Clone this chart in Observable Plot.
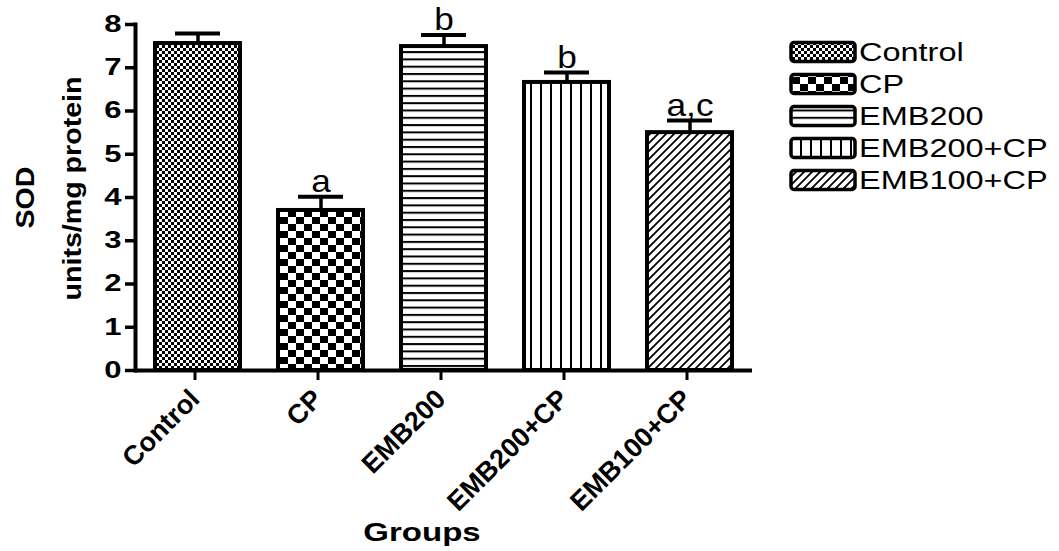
<!DOCTYPE html>
<html><head><meta charset="utf-8">
<script src="https://cdn.jsdelivr.net/npm/d3@7"></script>
<script src="https://cdn.jsdelivr.net/npm/@observablehq/plot@0.6"></script>
<style>
body{margin:0;background:#fff}
#chart{width:1059px;height:551px}
</style>
</head><body><div id="chart"></div>
<script>
// ---- data ----
const groups = ["Control", "CP", "EMB200", "EMB200+CP", "EMB100+CP"];
const means  = [7.56, 3.70, 7.49, 6.66, 5.50];
const sems   = [0.23, 0.32, 0.27, 0.23, 0.28];
const letters = ["", "a", "b", "b", "a,c"];
const yTicks = [0, 1, 2, 3, 4, 5, 6, 7, 8];
const yTitle = ["SOD", "units/mg protein"];
const xTitle = "Groups";
const patternIds = ["pControl", "pCP", "pEMB200", "pEMB200CP", "pEMB100CP"];

const data = groups.map((g, i) => ({
  group: g, mean: means[i], top: means[i] + sems[i], letter: letters[i],
  fill: `url(#${patternIds[i]})`
}));

const font = "'Liberation Sans', Arial, sans-serif";

const marks = [];
data.forEach(d => marks.push(
  Plot.barY([d], {x: "group", y: "mean", fill: d.fill, stroke: "black", strokeWidth: 4})
));
marks.push(
  Plot.ruleX(data, {x: "group", y1: "mean", y2: "top", stroke: "black", strokeWidth: 3.5}),
  Plot.tickY(data, {x: "group", y: "top", stroke: "black", strokeWidth: 4, insetLeft: 20, insetRight: 20}),
  Plot.text(data, {x: "group", y: "top", text: "letter", dy: -5, lineAnchor: "bottom",
    fontSize: 32, fontWeight: "normal", fill: "black"}),
  Plot.axisY({ticks: yTicks, tickSize: 10, tickPadding: 4, strokeWidth: 3.5,
    fontSize: 23, fontWeight: "bold", label: null, tickFormat: d3.format("d")}),
  Plot.axisX({tickSize: 10, tickPadding: 14, strokeWidth: 3, tickRotate: -45, dx: -3,
    fontSize: 27, fontWeight: "bold", label: null}),
  Plot.frame({anchor: "left", stroke: "black", strokeWidth: 4}),
  Plot.ruleY([0], {stroke: "black", strokeWidth: 4}),
  Plot.text([yTitle[0]], {frameAnchor: "left", textAnchor: "middle", lineAnchor: "middle",
    dx: -110, rotate: -90, fontSize: 26, fontWeight: "bold"}),
  Plot.text([yTitle[1]], {frameAnchor: "left", textAnchor: "middle", lineAnchor: "middle",
    dx: -63, dy: -9, rotate: -90, fontSize: 26, fontWeight: "bold"}),
  Plot.text([xTitle], {frameAnchor: "bottom", textAnchor: "middle", lineAnchor: "middle",
    dx: -22, dy: 162, fontSize: 25, fontWeight: "bold"})
);

const svg = Plot.plot({
  width: 1059, height: 551,
  marginLeft: 135, marginRight: 307, marginTop: 24, marginBottom: 181,
  style: {fontFamily: font, background: "white", color: "black", overflow: "visible"},
  x: {domain: groups, paddingInner: 0.31, paddingOuter: 0.155, label: null},
  y: {domain: [0, 8], label: null},
  marks
});

// ---- pattern definitions ----
const defs = d3.select(svg).insert("defs", ":first-child");
function pat(id, w, h) {
  const p = defs.append("pattern").attr("id", id).attr("patternUnits", "userSpaceOnUse")
    .attr("width", w).attr("height", h);
  p.append("rect").attr("width", w).attr("height", h).attr("fill", "white");
  return p;
}
{ const p = pat("pControl", 6, 6);
  p.select("rect").attr("fill", "black");
  p.append("rect").attr("x", 0).attr("y", 0).attr("width", 3).attr("height", 3).attr("fill", "white");
  p.append("rect").attr("x", 3).attr("y", 3).attr("width", 3).attr("height", 3).attr("fill", "white"); }
{ const p = pat("pCP", 16, 14);
  p.append("rect").attr("x", 0).attr("y", 0).attr("width", 8).attr("height", 7).attr("fill", "black");
  p.append("rect").attr("x", 8).attr("y", 7).attr("width", 8).attr("height", 7).attr("fill", "black"); }
{ const p = pat("pEMB200", 10, 7.3);
  p.append("rect").attr("x", 0).attr("y", 0).attr("width", 10).attr("height", 2).attr("fill", "black"); }
{ const p = pat("pEMB200CP", 10, 10);
  p.append("rect").attr("x", 0).attr("y", 0).attr("width", 2).attr("height", 10).attr("fill", "black"); }
{ const p = pat("pEMB100CP", 8, 8);
  p.append("path").attr("d", "M0,8L8,0M-2,2L2,-2M6,10L10,6").attr("stroke", "black").attr("stroke-width", 1.8); }

// ---- widen glyphs along their baseline (reference font is set wide) ----
function widen(sel, s) {
  sel.each(function () {
    const x = +this.getAttribute("x") || 0, y = +this.getAttribute("y") || 0;
    const t = this.getAttribute("transform") || "";
    this.setAttribute("transform", `${t} translate(${x},${y}) scale(${s},1) translate(${-x},${-y})`);
  });
}
const root = d3.select(svg);
const byText = list => root.selectAll("text").filter(function () { return list.includes(this.textContent); });
widen(root.selectAll('g[aria-label="y-axis tick label"] text'), 1.35);
widen(byText(letters.filter(d => d)), 1.1);
widen(byText(yTitle), 1.1);
widen(byText([xTitle]), 1.32);

// ---- legend ----
const leg = root.append("g").attr("font-family", font).attr("text-anchor", "start");
groups.forEach((g, i) => {
  const y = 52 + i * 32;
  leg.append("rect").attr("x", 791).attr("y", y - 9.5).attr("width", 64).attr("height", 19)
    .attr("rx", 3).attr("fill", `url(#${patternIds[i]})`).attr("stroke", "black").attr("stroke-width", 3.5);
  const t = leg.append("text").attr("x", 859).attr("y", y).attr("dy", "0.36em")
    .attr("font-size", 25).attr("fill", "black").text(g);
  widen(t, 1.3);
});

document.getElementById("chart").appendChild(svg);
</script>
</body></html>
